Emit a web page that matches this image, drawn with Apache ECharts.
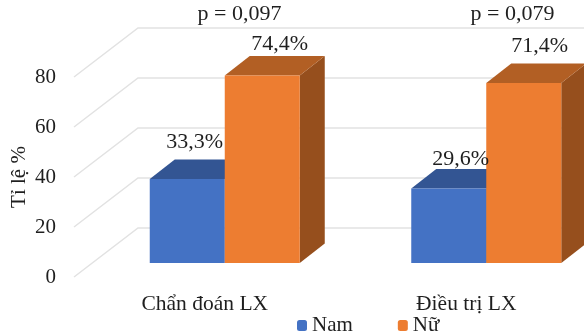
<!DOCTYPE html>
<html>
<head>
<meta charset="utf-8">
<style>html,body{margin:0;padding:0;background:#fff}#chart{width:584px;height:335px}</style>
<script src="https://cdn.jsdelivr.net/npm/echarts@6/dist/echarts.min.js"></script>
</head>
<body>
<div id="chart"></div>
<script>
// Tỉ lệ theo giới: chẩn đoán và điều trị LX
const categories = ['Chẩn đoán LX', 'Điều trị LX'];
const namValues = [33.3, 29.6];
const nuValues = [74.4, 71.4];
const yTicks = [0, 20, 40, 60, 80];
const pLabels = ['p = 0,097', 'p = 0,079'];

const FONT = 'Liberation Serif';
const INK = '#1f1f1f';
const BAR_W = 75;
const BAR_DEPTH = [25, -19.5];
const WALL_DEPTH = [64, -49];
const NAM = { front: '#4472C4', top: '#335593', side: '#2E5597' };
const NU = { front: '#ED7D31', top: '#B25F24', side: '#964F1D' };
// Nudge of each value label from the front-top corner area of its bar
const NAM_NUDGE = [[7.5, -37], [12, -29]];
const NU_NUDGE = [[17.5, -31], [16, -37]];

const fmt = v => v.toFixed(1).replace('.', ',') + '%';

// Receding wall lines of the 3D plot box
function renderWall(params, api) {
  const y = api.coord([0, api.value(0)])[1];
  const x0 = params.coordSys.x;
  return {
    type: 'polyline',
    shape: { points: [[x0, y], [x0 + WALL_DEPTH[0], y + WALL_DEPTH[1]], [600, y + WALL_DEPTH[1]]] },
    style: { stroke: '#E2E2E2', lineWidth: 1.5, fill: null }
  };
}

// Extruded column: front face, top face and right side face
function renderBar(colors, sign) {
  return function (params, api) {
    const c = api.coord([api.value(0), api.value(1)]);
    const base = api.coord([api.value(0), 0])[1];
    const xl = sign < 0 ? c[0] - BAR_W : c[0];
    const xr = xl + BAR_W;
    const top = c[1];
    const [dx, dy] = BAR_DEPTH;
    return {
      type: 'group',
      children: [
        { type: 'polygon', shape: { points: [[xr, top], [xr + dx, top + dy], [xr + dx, base + dy], [xr, base]] }, style: { fill: colors.side } },
        { type: 'polygon', shape: { points: [[xl, top], [xl + dx, top + dy], [xr + dx, top + dy], [xr, top]] }, style: { fill: colors.top } },
        { type: 'rect', shape: { x: xl, y: top, width: BAR_W, height: base - top }, style: { fill: colors.front } }
      ]
    };
  };
}

function renderValueLabel(nudges, sign) {
  return function (params, api) {
    const c = api.coord([api.value(0), api.value(1)]);
    const n = nudges[params.dataIndex];
    return {
      type: 'text',
      x: c[0] + sign * BAR_W / 2 + n[0],
      y: c[1] + n[1],
      style: { text: fmt(api.value(1)), font: '22px "' + FONT + '"', fill: INK, align: 'center', verticalAlign: 'middle' }
    };
  };
}

const asPoints = arr => arr.map((v, i) => [i, v]);

const option = {
  animation: false,
  backgroundColor: '#fff',
  textStyle: { fontFamily: FONT, color: INK },
  legend: {
    data: ['Nam', 'Nữ'],
    left: 297, top: 315,
    padding: 0,
    itemWidth: 10, itemHeight: 11, itemGap: 45,
    textStyle: { fontFamily: FONT, fontSize: 21, color: INK }
  },
  grid: [
    { left: 74, top: 77, width: 523, height: 200, outerBoundsMode: 'none' },
    { left: 94, top: 61.4, width: 523, height: 201.6, outerBoundsMode: 'none' }
  ],
  xAxis: [
    { type: 'category', gridIndex: 0, data: categories,
      axisLine: { show: false }, axisTick: { show: false },
      axisLabel: { fontFamily: FONT, fontSize: 21.5, color: INK, margin: 16, interval: 0 } },
    { type: 'category', gridIndex: 1, data: categories, show: false }
  ],
  yAxis: [
    { type: 'value', gridIndex: 0, min: 0, max: 80, interval: 20,
      name: 'Tỉ lệ %', nameLocation: 'middle', nameGap: 44, nameRotate: 90, nameMoveOverlap: false,
      nameTextStyle: { fontFamily: FONT, fontSize: 21, color: INK },
      axisLine: { show: false }, axisTick: { show: false }, splitLine: { show: false },
      axisLabel: { fontFamily: FONT, fontSize: 21, color: INK, margin: 18 } },
    { type: 'value', gridIndex: 1, min: 0, max: 80, interval: 20, show: false, splitLine: { show: false } }
  ],
  graphic: pLabels.map((t, i) => ({
    type: 'text', x: [239.5, 512.5][i], y: 14,
    style: { text: t, font: '22px "' + FONT + '"', fill: INK, align: 'center', verticalAlign: 'middle' }
  })),
  series: [
    { type: 'custom', name: 'wall', xAxisIndex: 0, yAxisIndex: 0, clip: false, z: 1, silent: true,
      data: yTicks.map(v => [v]), encode: { y: 0 }, renderItem: renderWall },
    { type: 'custom', name: 'Nam', xAxisIndex: 1, yAxisIndex: 1, clip: false, z: 2,
      itemStyle: { color: NAM.front }, data: asPoints(namValues), encode: { x: 0, y: 1 },
      renderItem: renderBar(NAM, -1) },
    { type: 'custom', name: 'Nữ', xAxisIndex: 1, yAxisIndex: 1, clip: false, z: 3,
      itemStyle: { color: NU.front }, data: asPoints(nuValues), encode: { x: 0, y: 1 },
      renderItem: renderBar(NU, 1) },
    { type: 'custom', name: 'Nam %', xAxisIndex: 1, yAxisIndex: 1, clip: false, z: 4, silent: true,
      data: asPoints(namValues), encode: { x: 0, y: 1 }, renderItem: renderValueLabel(NAM_NUDGE, -1) },
    { type: 'custom', name: 'Nữ %', xAxisIndex: 1, yAxisIndex: 1, clip: false, z: 4, silent: true,
      data: asPoints(nuValues), encode: { x: 0, y: 1 }, renderItem: renderValueLabel(NU_NUDGE, 1) }
  ]
};

echarts.init(document.getElementById('chart'), null, { renderer: 'canvas' }).setOption(option);
</script>
</body>
</html>
